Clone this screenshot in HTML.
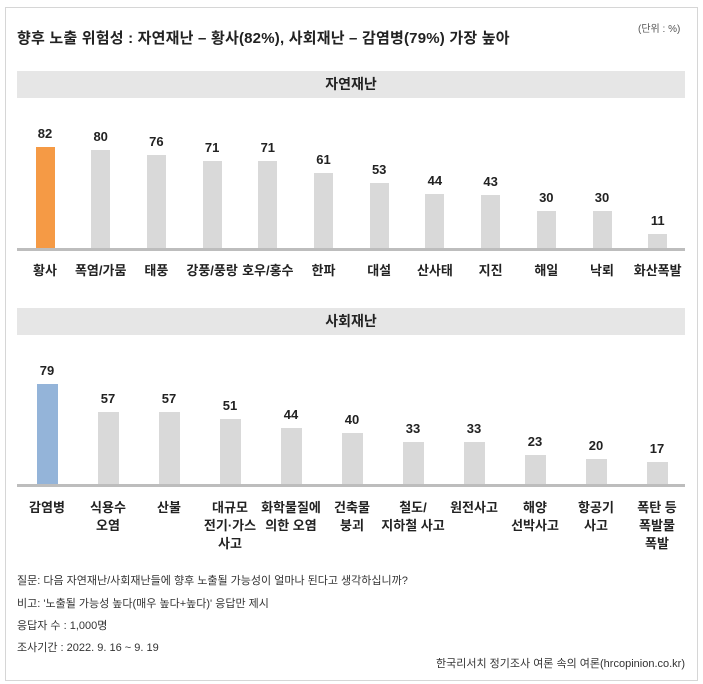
<!DOCTYPE html>
<html><head><meta charset="utf-8"><style>
body{margin:0;width:703px;height:684px;background:#fff;font-family:"Liberation Sans","Noto Sans CJK KR",sans-serif;position:relative;overflow:hidden;color:#222}
.a{position:absolute}
.box{left:5px;top:7px;width:691px;height:672px;border:1px solid #d6d6d6}
.hdr{left:17px;width:668px;height:27px;background:#e6e6e6;text-align:center;line-height:27px;font-size:14px;font-weight:bold;color:#222}
.bar{position:absolute;background:#d9d9d9}
.v{position:absolute;font-size:13px;font-weight:bold;width:40px;text-align:center;color:#222}
.c{position:absolute;font-size:13px;font-weight:bold;width:64px;text-align:center;line-height:18px;color:#222}
.n{position:absolute;left:17px;font-size:11px;color:#333}
</style></head><body>
<div class="a box"></div>
<div class="a" style="left:17px;top:27px;font-size:15px;font-weight:bold;letter-spacing:0.2px">향후 노출 위험성 : 자연재난 – 황사(82%), 사회재난 – 감염병(79%) 가장 높아</div>
<div class="a" style="left:638px;top:20px;font-size:10px;color:#555">(단위 : %)</div>
<div class="a hdr" style="top:71px">자연재난</div>
<div class="a hdr" style="top:308px">사회재난</div>
<div class="a" style="left:17px;top:248px;width:668px;height:3px;background:#bdbdbd"></div>
<div class="a" style="left:17px;top:484px;width:668px;height:3px;background:#bdbdbd"></div>
<div id="c1"></div><div id="c2"></div>
<div class="n" style="top:572px">질문: 다음 자연재난/사회재난들에 향후 노출될 가능성이 얼마나 된다고 생각하십니까?</div>
<div class="n" style="top:595px">비고: '노출될 가능성 높다(매우 높다+높다)' 응답만 제시</div>
<div class="n" style="top:617px">응답자 수 : 1,000명</div>
<div class="n" style="top:639px">조사기간 : 2022. 9. 16 ~ 9. 19</div>
<div class="a" style="right:18px;top:655px;font-size:11px;color:#333">한국리서치 정기조사 여론 속의 여론(hrcopinion.co.kr)</div>
<script>
function draw(id,data,x0,step,base,scale,bw,lo,color){
 var h='';
 data.forEach(function(d,i){
  var cx=x0+i*step, bh=d[1]*scale, top=base-bh;
  h+='<div class="bar" style="left:'+(cx-bw/2)+'px;top:'+top+'px;width:'+bw+'px;height:'+bh+'px;'+(i==0?'background:'+color:'')+'"></div>';
  h+='<div class="v" style="left:'+(cx-20)+'px;top:'+(top-21)+'px">'+d[1]+'</div>';
  h+='<div class="c" style="left:'+(cx-32)+'px;top:'+(base+lo)+'px">'+d[0]+'</div>';
 });
 document.getElementById(id).innerHTML=h;
}
draw('c1',[['황사',82],['폭염/가뭄',80],['태풍',76],['강풍/풍랑',71],['호우/홍수',71],['한파',61],['대설',53],['산사태',44],['지진',43],['해일',30],['낙뢰',30],['화산폭발',11]],45,55.7,248,1.23,19,14,'#f59a45');
draw('c2',[['감염병',79],['식용수<br>오염',57],['산불',57],['대규모<br>전기·가스<br>사고',51],['화학물질에<br>의한 오염',44],['건축물<br>붕괴',40],['철도/<br>지하철 사고',33],['원전사고',33],['해양<br>선박사고',23],['항공기<br>사고',20],['폭탄 등<br>폭발물<br>폭발',17]],47,61,484,1.27,21,15,'#94b4d9');
</script>
</body></html>
